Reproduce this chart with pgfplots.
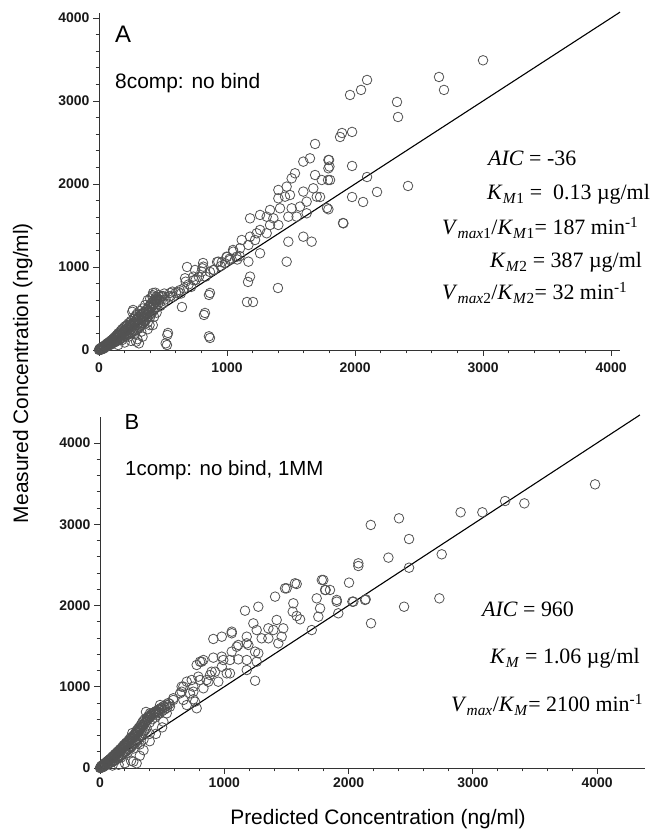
\documentclass[border=0pt]{standalone}
\usepackage{fontspec}
\setmainfont{Liberation Serif}
\setsansfont{Liberation Sans}
\newfontfamily\helv{Liberation Sans}
\usepackage{pgfplots}
\pgfplotsset{compat=1.18}

\pgfplotsset{
 myaxis/.style={
   scale only axis, axis lines*=left,
   axis line style={-, black!80, line width=0.9bp},
   xmin=0, ymin=0, xtick={0,1000,...,4000}, ytick={0,1000,...,4000},
   minor tick num=4, tick align=outside,
   major tick length=6bp, minor tick length=3.5bp,
   tick style={black!80, line width=0.8bp},
   /pgf/number format/1000 sep={}, /pgf/number format/assume math mode=true,
   tick label style={font=\helv\bfseries\fontsize{14}{14}\selectfont, text=black!90},
   clip=false,
 },
 pts/.style={only marks, mark=o, mark size=4.8bp, mark options={draw=black!68, line width=0.8bp}},
}
\newcommand{\ann}{\fontsize{22}{22}\selectfont}

\begin{document}
\begin{tikzpicture}[x=1bp,y=1bp]
\useasboundingbox (0,0) rectangle (651,829);

% ---------------- Panel A ----------------
\begin{axis}[myaxis, at={(99bp,479bp)}, anchor=south west, width=521bp, height=337bp,
  xmax=4070, ymax=4060, xticklabel style={yshift=-3bp}]
\addplot[pts] coordinates {
(0,0)(3,10)(8,2)(12,15)(18,5)(22,25)(28,12)(33,28)(38,18)
(5,5)(10,20)(15,8)(20,30)(25,15)(30,40)(35,22)(40,50)(45,30)(50,60)(55,38)(60,75)(65,45)(70,85)(75,55)(80,95)(85,60)(90,110)(95,70)(100,120)(105,80)(110,135)(115,90)(120,150)(125,95)(130,165)(135,105)(140,180)(145,115)(150,200)(155,120)(160,210)(165,130)(170,230)(175,140)(180,250)(185,150)(190,260)(195,160)(200,280)(205,170)(210,290)(215,175)(220,300)(225,185)(230,320)(235,190)(240,330)(245,200)(250,350)(255,210)(260,460)(265,220)(270,380)(275,230)(280,400)(285,240)(290,420)(295,250)(300,440)(305,260)(310,330)(315,270)(320,470)(325,290)(330,360)(335,300)(340,500)(345,320)(350,390)(355,340)(360,540)(365,360)(370,420)(375,380)(380,600)(385,400)(390,460)(395,300)(400,620)(405,430)(410,520)(415,450)(420,660)(425,480)(430,560)(435,500)(440,690)(445,520)(450,600)(460,550)(470,640)(480,580)
(12,8)(18,22)(26,18)(34,40)(42,36)(48,52)(56,62)(62,58)(68,70)(74,88)(82,78)(88,96)(96,102)(102,98)(108,118)(116,128)(122,112)(128,140)(136,150)(142,138)(148,165)(156,178)(162,170)(168,190)(176,200)(182,185)(188,215)(196,230)(202,220)(208,245)(216,255)(222,240)(228,270)(236,280)(242,265)(248,300)(256,310)(262,290)(268,330)(276,340)(282,320)(288,360)(296,370)(302,350)(308,390)(316,400)(322,380)(328,420)(336,430)(342,410)(348,450)(356,460)(362,440)(368,480)(376,490)(382,470)(388,520)(396,530)(402,500)(408,560)(416,570)(422,540)(428,600)(436,610)(442,580)(448,640)(456,620)(464,660)(472,600)(486,640)(500,650)(510,680)(150,150)(200,200)(250,250)(300,300)(350,350)(400,400)(450,450)(180,120)(230,160)(280,190)(330,220)(380,330)(430,400)
(150,60)(200,90)(250,110)(300,130)(340,160)(380,250)(420,300)(312,80)(290,100)
(807,984)(898,964)(755,843)(833,884)(859,663)(820,422)(859,165)(677,823)(664,743)(573,703)(547,643)(417,643)(534,181)(521,80)(531,60)(539,205)(648,518)(578,639)(555,687)(453,602)(422,687)(266,482)(867,145)(828,446)(867,687)(688,1000)(750,964)(813,1048)(922,1060)(1000,1120)(1047,1205)(867,940)(600,690)(630,720)(700,790)(720,760)(500,560)(520,610)(480,530)(560,650)(620,700)(740,840)(780,880)(950,1010)(960,1060)(1020,1100)(1080,1090)(1100,1130)(640,680)(470,610)(490,650)
(1164,820)(1398,747)(1156,578)(1203,578)
(1688,2482)(1596,2269)(1648,2309)(1792,2289)(1792,2189)(1531,2129)(1505,2068)(1688,2108)(1740,2048)(1805,2048)(1401,1928)(1466,1968)(1596,1908)(1674,1948)(1401,1827)(1453,1847)(1492,1867)(1701,1847)(1622,1787)(1570,1727)(1505,1707)(1414,1707)(1336,1687)(1310,1606)(1258,1627)(1180,1586)(1362,1586)(1479,1606)(1544,1606)(1622,1647)(1792,1695)(1336,1506)(1401,1506)(1258,1446)(1232,1406)(1310,1406)(1180,1365)(1115,1325)(1219,1325)(1596,1365)(1661,1305)(1479,1305)(1909,1526)(1167,1265)(1102,1225)(1049,1185)(1258,1165)(1076,1124)(997,1124)(1023,1084)(932,1064)(984,1044)(815,1004)(802,943)(893,964)(737,884)(672,864)(1167,1064)(1466,1064)(1180,884)
(3000,3490)(2656,3289)(2695,3133)(2094,3253)(2047,3133)(1961,3072)(2328,2988)(2336,2807)(1977,2627)(1883,2566)(1898,2614)(1797,2289)(1977,2217)(1800,2210)(2094,2084)(1789,2048)(2414,1976)(1977,1843)(2172,1904)(2063,1783)(1781,1711)(1906,1530)(1727,1843)
};
\addplot[black, line width=1.1bp] coordinates {(0,0) (4070,4070)};
\end{axis}

% ---------------- Panel B ----------------
\begin{axis}[myaxis, at={(100bp,61bp)}, anchor=south west, width=545bp, height=351bp,
  xmax=4386, ymax=4320]
\addplot[pts] coordinates {
(0,0)(3,8)(8,3)(12,18)(18,8)(22,30)(28,14)(32,38)
(5,5)(10,25)(15,10)(20,35)(25,20)(30,45)(35,25)(40,60)(45,35)(50,70)(55,40)(60,85)(65,50)(70,95)(75,60)(80,110)(85,65)(90,120)(95,75)(100,140)(105,85)(110,150)(115,95)(120,170)(125,100)(130,180)(135,115)(140,200)(145,120)(150,210)(155,135)(160,230)(165,150)(170,240)(175,160)(180,260)(185,175)(190,280)(195,190)(200,290)(205,200)(210,310)(215,210)(220,320)(225,230)(230,340)(235,240)(240,360)(245,260)(250,380)(255,270)(260,430)(265,290)(270,400)(275,300)(280,420)(285,310)(290,450)(295,330)(300,470)(305,350)(310,490)(315,370)(320,510)(325,390)(330,530)(335,410)(340,560)(345,430)(350,580)(355,450)(360,600)(365,470)(370,690)(375,490)(380,620)(390,640)(400,560)(410,660)(420,600)(430,680)(440,620)(450,700)(460,650)(470,720)(480,680)(490,740)(500,700)(510,760)(520,720)(530,780)(540,740)(550,800)
(12,14)(18,24)(26,30)(34,44)(42,52)(48,62)(56,72)(62,80)(68,88)(74,98)(82,108)(88,115)(96,128)(102,132)(108,145)(116,155)(122,160)(128,170)(136,185)(142,190)(148,200)(156,215)(162,220)(168,230)(176,245)(182,250)(188,262)(196,275)(202,280)(208,292)(216,305)(222,310)(228,322)(236,335)(242,340)(248,352)(256,365)(262,372)(268,385)(276,398)(282,405)(288,418)(296,432)(302,440)(308,455)(316,468)(322,475)(328,490)(336,505)(342,512)(348,528)(356,545)(362,552)(368,570)(376,585)(382,592)(388,610)(396,625)(402,632)(410,640)(420,660)(430,670)(440,690)(450,670)(460,700)(470,690)(480,720)(500,730)(520,750)(540,770)(560,790)(150,150)(200,200)(250,250)(300,300)(350,350)(400,420)(120,90)(170,130)(220,180)(270,240)(320,290)
(200,60)(250,90)(295,58)(268,78)(320,150)(350,220)(400,330)(450,420)(500,500)(150,40)(100,30)
(2079,2519)(1797,2314)(2004,2281)(1816,2191)(1583,2265)(1502,2211)(1409,2109)(1744,2088)(1905,2047)(2039,2047)(2133,2068)(1167,1936)(1274,1985)(1551,1924)(1583,1871)(1610,1830)(1771,1965)(1757,1862)(1918,1904)(1704,1698)(1234,1780)(1261,1698)(1395,1698)(1462,1616)(1435,1534)(1355,1596)(1301,1596)(1181,1616)(1194,1514)(1113,1514)(1060,1678)(980,1616)(912,1588)(1274,1412)(1181,1329)(1113,1337)(1060,1432)(980,1370)(1046,1329)(1261,1308)(832,1329)(805,1308)(980,1247)(926,1185)(1046,1165)(885,1144)(791,1124)(738,1083)(858,1083)(952,1062)(1248,1074)(671,1001)(751,1001)(832,981)(644,919)(724,919)(590,837)(671,837)(765,816)(563,755)(698,775)
(483,775)(402,673)(537,673)(510,570)(590,858)(751,846)(778,735)(657,1001)(751,939)(657,939)(698,1062)(805,1083)(872,1062)(818,1308)(778,1268)(898,1185)(1020,1165)(1181,1206)(992,1329)(912,1358)(1248,1432)(1100,1493)(1181,1534)(1060,1658)(1355,1719)(1475,1719)(1422,1822)(1556,2027)(1489,2211)(1569,2273)(1811,2191)(1785,2314)
(3984,3491)(3260,3286)(3415,3257)(3077,3147)(2902,3147)(2406,3073)(2179,2991)(2487,2818)(2750,2630)(2321,2589)(2079,2486)(2487,2465)(1905,2068)(2031,2047)(2138,2076)(2447,1985)(2731,2088)(2181,1781)(1851,2191)
};
\addplot[black, line width=1.1bp] coordinates {(0,0) (4345,4345)};
\end{axis}

% ---------------- Texts ----------------
\node[font=\helv\fontsize{24}{24}\selectfont] at (123,795) {A};
\node[font=\helv\fontsize{21}{21}\selectfont, anchor=west, inner sep=0] at (115,746) {8comp: no bind};
\node[font=\helv\fontsize{22}{22}\selectfont] at (132,407) {B};
\node[font=\helv\fontsize{20.5}{20.5}\selectfont, anchor=west, inner sep=0] at (125,359) {1comp: no bind, 1MM};

\node[font=\ann, anchor=base west, inner sep=0] at (488,663) {\textit{AIC} = -36};
\node[font=\ann, anchor=base west, inner sep=0] at (487,629) {\textit{K}\textsubscript{\textit{M}1} =\ \ 0.13 µg/ml};
\node[font=\ann, anchor=base west, inner sep=0] at (442,594) {\textit{V}\textsubscript{\textit{max}1}/\textit{K}\textsubscript{\textit{M}1}= 187 min\textsuperscript{-1}};
\node[font=\ann, anchor=base west, inner sep=0] at (490,561) {\textit{K}\textsubscript{\textit{M}2} = 387 µg/ml};
\node[font=\ann, anchor=base west, inner sep=0] at (442,529) {\textit{V}\textsubscript{\textit{max}2}/\textit{K}\textsubscript{\textit{M}2}= 32 min\textsuperscript{-1}};

\node[font=\ann, anchor=base west, inner sep=0] at (482,212) {\textit{AIC} = 960};
\node[font=\ann, anchor=base west, inner sep=0] at (490,165) {\textit{K}\textsubscript{\textit{M}} = 1.06 µg/ml};
\node[font=\ann, anchor=base west, inner sep=0] at (451,117) {\textit{V}\textsubscript{\textit{max}}/\textit{K}\textsubscript{\textit{M}}= 2100 min\textsuperscript{-1}};

\node[font=\helv\fontsize{21}{21}\selectfont, rotate=90, anchor=base] at (28,456) {Measured Concentration (ng/ml)};
\node[font=\helv\fontsize{21}{21}\selectfont, anchor=base] at (378,4) {Predicted Concentration (ng/ml)};
\end{tikzpicture}
\end{document}
